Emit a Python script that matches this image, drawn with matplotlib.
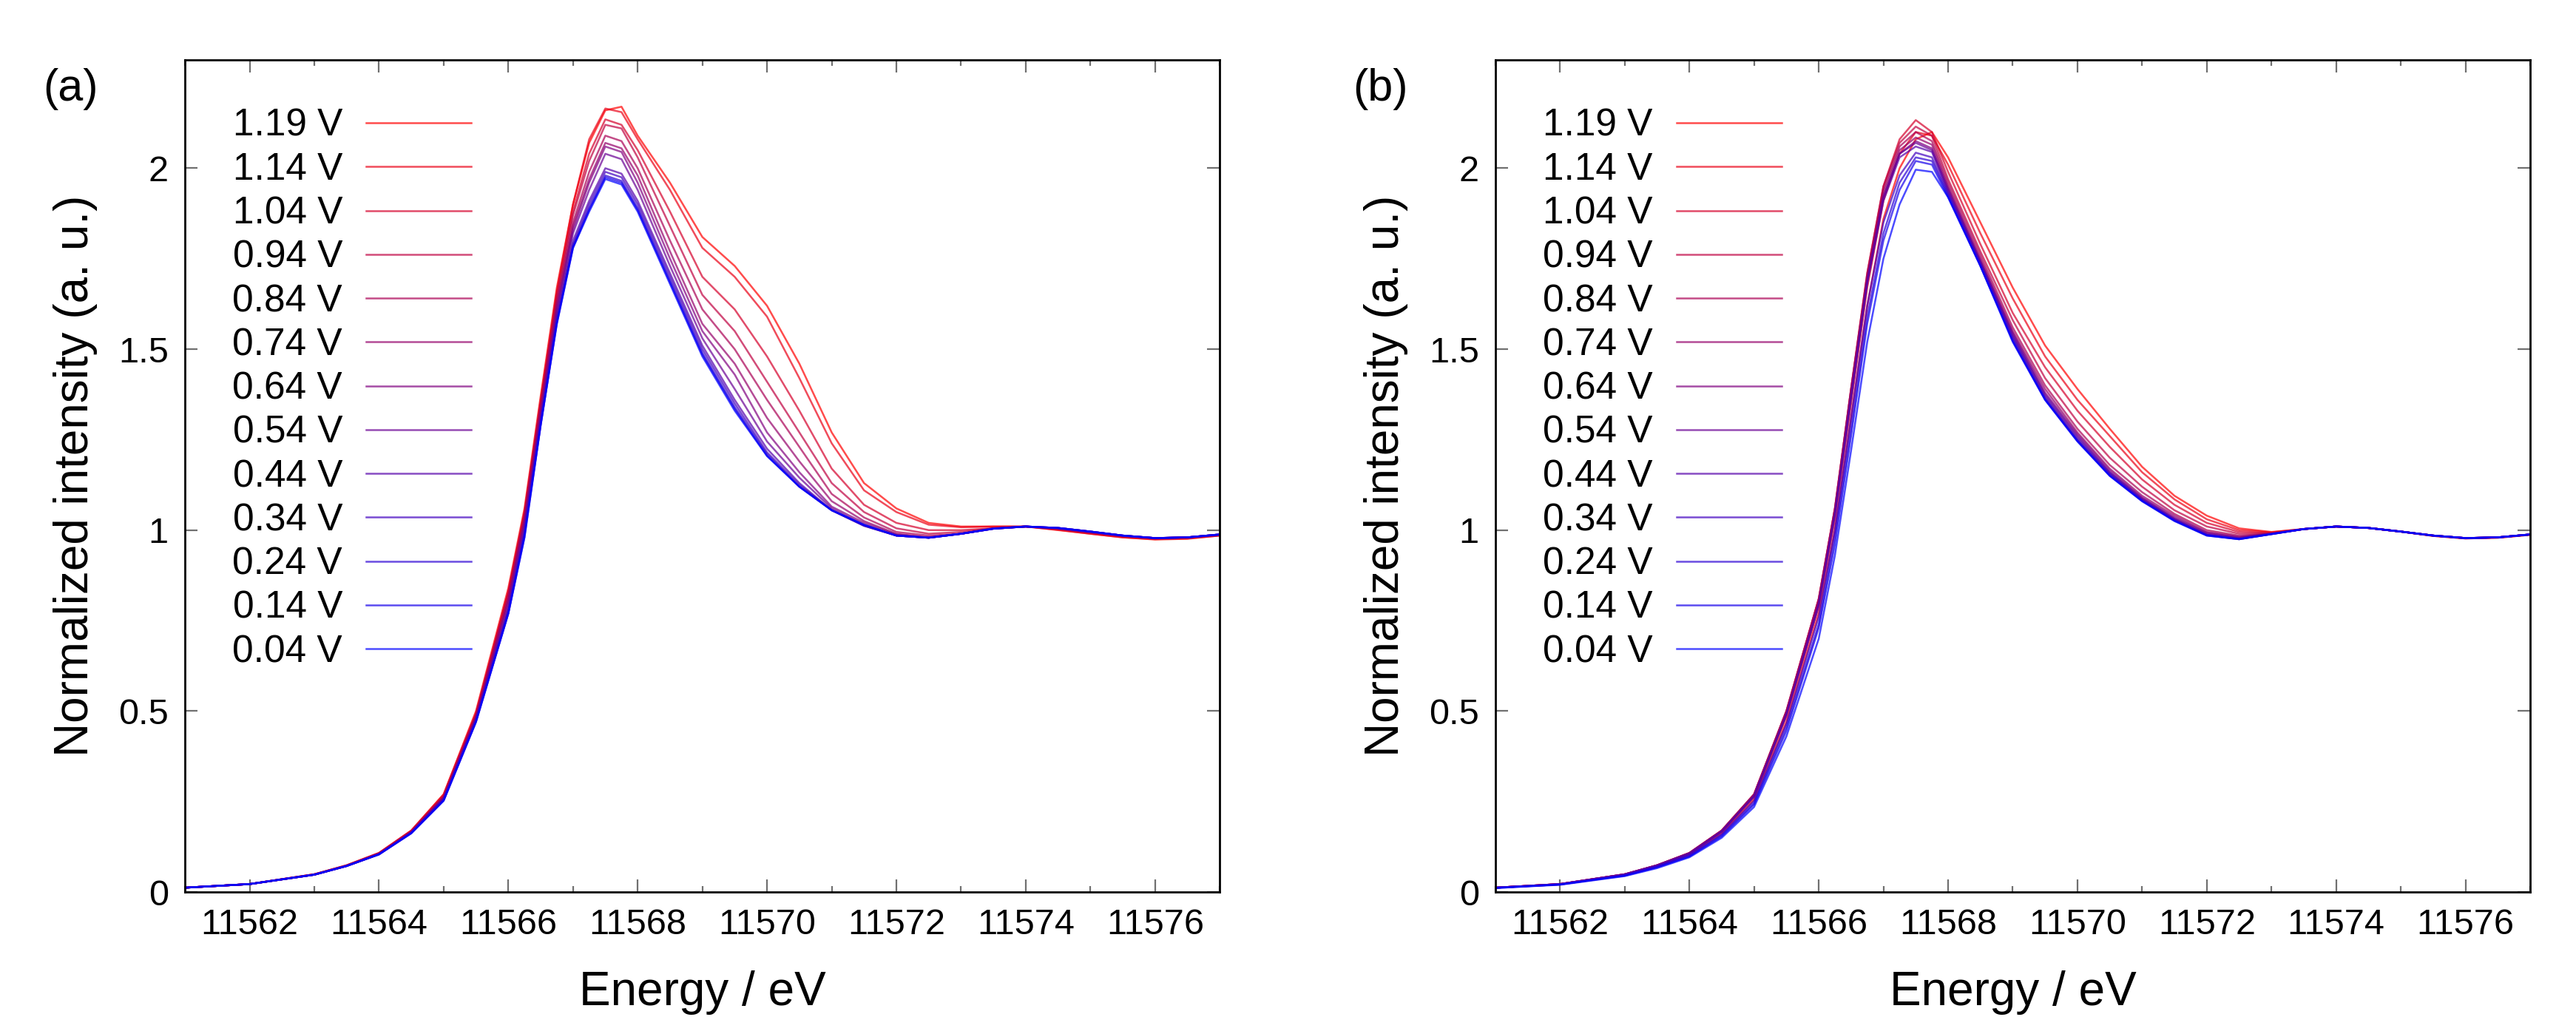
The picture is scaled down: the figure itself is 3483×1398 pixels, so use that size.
import numpy as np
import matplotlib.pyplot as plt

plt.rcParams['font.family'] = ['Liberation Sans', 'DejaVu Sans']

# energy grid (eV), shared by all spectra
energy = [11561, 11562, 11563, 11563.5, 11564, 11564.5, 11565, 11565.5,
          11566, 11566.25, 11566.5, 11566.75, 11567, 11567.25, 11567.5, 11567.75,
          11568, 11568.5, 11569, 11569.5, 11570, 11570.5, 11571, 11571.5,
          11572, 11572.5, 11573, 11573.5, 11574, 11574.5, 11575, 11575.5,
          11576, 11576.5, 11577]

potentials = ['1.19 V', '1.14 V', '1.04 V', '0.94 V', '0.84 V', '0.74 V', '0.64 V',
              '0.54 V', '0.44 V', '0.34 V', '0.24 V', '0.14 V', '0.04 V']

# ---- panel (a)
a_119 = [0.012, 0.022, 0.049, 0.074, 0.108, 0.170, 0.270, 0.500, 0.840, 1.060, 1.370, 1.670, 1.900, 2.070, 2.160, 2.170, 2.090, 1.960, 1.810, 1.730, 1.620, 1.460, 1.270, 1.130, 1.060, 1.020, 1.010, 1.010, 1.010, 1.000, 0.990, 0.980, 0.974, 0.976, 0.985]
a_114 = [0.012, 0.022, 0.049, 0.074, 0.108, 0.170, 0.270, 0.495, 0.830, 1.050, 1.360, 1.660, 1.900, 2.080, 2.165, 2.155, 2.080, 1.940, 1.780, 1.700, 1.590, 1.420, 1.240, 1.110, 1.050, 1.015, 1.008, 1.010, 1.010, 1.001, 0.990, 0.980, 0.975, 0.977, 0.985]
a_104 = [0.012, 0.022, 0.049, 0.073, 0.107, 0.168, 0.265, 0.490, 0.830, 1.050, 1.350, 1.650, 1.880, 2.040, 2.135, 2.120, 2.050, 1.880, 1.700, 1.610, 1.480, 1.330, 1.170, 1.070, 1.020, 1.000, 1.000, 1.005, 1.010, 1.003, 0.992, 0.982, 0.977, 0.979, 0.986]
a_094 = [0.012, 0.022, 0.049, 0.073, 0.107, 0.168, 0.265, 0.490, 0.820, 1.040, 1.350, 1.640, 1.870, 2.020, 2.120, 2.110, 2.030, 1.840, 1.650, 1.550, 1.410, 1.270, 1.130, 1.050, 1.005, 0.990, 0.995, 1.005, 1.010, 1.003, 0.993, 0.983, 0.977, 0.979, 0.986]
a_084 = [0.012, 0.022, 0.048, 0.073, 0.106, 0.167, 0.262, 0.485, 0.810, 1.030, 1.340, 1.630, 1.850, 1.990, 2.090, 2.075, 2.000, 1.800, 1.610, 1.500, 1.360, 1.230, 1.100, 1.035, 0.995, 0.985, 0.990, 1.005, 1.010, 1.004, 0.994, 0.984, 0.978, 0.980, 0.987]
a_074 = [0.012, 0.022, 0.048, 0.073, 0.106, 0.166, 0.262, 0.485, 0.810, 1.030, 1.330, 1.620, 1.840, 1.970, 2.070, 2.055, 1.980, 1.770, 1.570, 1.460, 1.310, 1.190, 1.080, 1.025, 0.990, 0.980, 0.990, 1.005, 1.010, 1.004, 0.994, 0.984, 0.978, 0.980, 0.987]
a_064 = [0.012, 0.022, 0.048, 0.072, 0.105, 0.165, 0.260, 0.480, 0.800, 1.020, 1.320, 1.610, 1.830, 1.960, 2.060, 2.045, 1.960, 1.750, 1.550, 1.430, 1.270, 1.160, 1.065, 1.020, 0.988, 0.980, 0.990, 1.005, 1.010, 1.005, 0.995, 0.985, 0.978, 0.980, 0.988]
a_054 = [0.012, 0.022, 0.048, 0.072, 0.105, 0.165, 0.258, 0.478, 0.790, 1.010, 1.310, 1.600, 1.820, 1.940, 2.040, 2.025, 1.940, 1.730, 1.530, 1.390, 1.245, 1.145, 1.060, 1.015, 0.985, 0.979, 0.990, 1.004, 1.010, 1.006, 0.996, 0.985, 0.978, 0.980, 0.988]
a_044 = [0.012, 0.022, 0.048, 0.072, 0.105, 0.164, 0.256, 0.475, 0.780, 1.000, 1.300, 1.590, 1.800, 1.910, 2.000, 1.985, 1.910, 1.710, 1.510, 1.360, 1.225, 1.130, 1.055, 1.012, 0.985, 0.979, 0.990, 1.004, 1.010, 1.006, 0.996, 0.985, 0.978, 0.980, 0.988]
a_034 = [0.012, 0.022, 0.048, 0.072, 0.104, 0.164, 0.255, 0.473, 0.780, 0.990, 1.300, 1.580, 1.790, 1.900, 1.990, 1.975, 1.900, 1.700, 1.500, 1.350, 1.215, 1.125, 1.055, 1.012, 0.985, 0.979, 0.990, 1.004, 1.010, 1.006, 0.996, 0.985, 0.978, 0.980, 0.988]
a_024 = [0.012, 0.022, 0.048, 0.072, 0.104, 0.163, 0.254, 0.472, 0.770, 0.990, 1.290, 1.575, 1.785, 1.890, 1.980, 1.965, 1.890, 1.690, 1.490, 1.340, 1.210, 1.120, 1.055, 1.013, 0.985, 0.979, 0.990, 1.004, 1.010, 1.006, 0.996, 0.985, 0.978, 0.980, 0.988]
a_014 = [0.012, 0.022, 0.048, 0.072, 0.104, 0.163, 0.253, 0.470, 0.770, 0.980, 1.290, 1.570, 1.780, 1.885, 1.975, 1.960, 1.885, 1.685, 1.485, 1.335, 1.205, 1.120, 1.055, 1.014, 0.985, 0.979, 0.990, 1.004, 1.010, 1.006, 0.996, 0.985, 0.978, 0.980, 0.988]
a_004 = [0.012, 0.022, 0.048, 0.072, 0.104, 0.162, 0.252, 0.470, 0.770, 0.980, 1.290, 1.570, 1.780, 1.880, 1.970, 1.955, 1.880, 1.680, 1.480, 1.330, 1.205, 1.120, 1.055, 1.015, 0.985, 0.979, 0.990, 1.004, 1.010, 1.006, 0.996, 0.985, 0.978, 0.980, 0.988]

# ---- panel (b)
b_119 = [0.012, 0.021, 0.047, 0.071, 0.103, 0.162, 0.255, 0.470, 0.770, 1.000, 1.310, 1.620, 1.860, 2.000, 2.080, 2.100, 2.030, 1.850, 1.670, 1.510, 1.390, 1.280, 1.175, 1.095, 1.040, 1.005, 0.995, 1.003, 1.010, 1.006, 0.996, 0.984, 0.977, 0.979, 0.987]
b_114 = [0.012, 0.022, 0.048, 0.073, 0.106, 0.166, 0.262, 0.485, 0.790, 1.030, 1.350, 1.670, 1.910, 2.040, 2.100, 2.090, 2.010, 1.820, 1.640, 1.480, 1.360, 1.260, 1.160, 1.085, 1.030, 1.000, 0.994, 1.003, 1.010, 1.006, 0.996, 0.984, 0.977, 0.979, 0.987]
b_104 = [0.012, 0.022, 0.049, 0.074, 0.108, 0.170, 0.270, 0.500, 0.810, 1.060, 1.390, 1.710, 1.950, 2.080, 2.133, 2.100, 1.990, 1.790, 1.600, 1.450, 1.330, 1.230, 1.140, 1.070, 1.020, 0.995, 0.992, 1.003, 1.010, 1.006, 0.996, 0.985, 0.978, 0.980, 0.988]
b_094 = [0.012, 0.022, 0.049, 0.074, 0.108, 0.170, 0.270, 0.500, 0.810, 1.060, 1.390, 1.710, 1.950, 2.070, 2.115, 2.090, 1.970, 1.770, 1.580, 1.420, 1.300, 1.200, 1.120, 1.055, 1.010, 0.990, 0.991, 1.003, 1.010, 1.006, 0.996, 0.985, 0.978, 0.980, 0.988]
b_084 = [0.012, 0.022, 0.049, 0.074, 0.108, 0.170, 0.270, 0.500, 0.810, 1.060, 1.390, 1.700, 1.940, 2.060, 2.100, 2.075, 1.960, 1.760, 1.560, 1.400, 1.280, 1.180, 1.105, 1.045, 1.000, 0.985, 0.990, 1.003, 1.010, 1.006, 0.996, 0.985, 0.978, 0.980, 0.988]
b_074 = [0.012, 0.022, 0.049, 0.074, 0.107, 0.169, 0.268, 0.495, 0.800, 1.050, 1.380, 1.700, 1.930, 2.050, 2.085, 2.065, 1.950, 1.750, 1.550, 1.390, 1.270, 1.170, 1.095, 1.040, 0.995, 0.982, 0.990, 1.003, 1.010, 1.006, 0.996, 0.985, 0.978, 0.980, 0.988]
b_064 = [0.012, 0.022, 0.049, 0.074, 0.107, 0.169, 0.268, 0.495, 0.800, 1.050, 1.380, 1.690, 1.920, 2.040, 2.075, 2.055, 1.945, 1.745, 1.545, 1.380, 1.265, 1.165, 1.090, 1.035, 0.993, 0.980, 0.990, 1.003, 1.010, 1.006, 0.996, 0.985, 0.978, 0.980, 0.988]
b_054 = [0.012, 0.022, 0.049, 0.073, 0.107, 0.168, 0.266, 0.492, 0.800, 1.050, 1.370, 1.690, 1.920, 2.040, 2.070, 2.050, 1.940, 1.740, 1.540, 1.375, 1.260, 1.160, 1.088, 1.032, 0.990, 0.978, 0.990, 1.003, 1.010, 1.006, 0.996, 0.985, 0.978, 0.980, 0.988]
b_044 = [0.012, 0.022, 0.048, 0.073, 0.106, 0.167, 0.263, 0.488, 0.790, 1.040, 1.360, 1.680, 1.910, 2.030, 2.060, 2.045, 1.935, 1.740, 1.535, 1.370, 1.255, 1.158, 1.085, 1.030, 0.988, 0.977, 0.990, 1.003, 1.010, 1.006, 0.996, 0.985, 0.978, 0.980, 0.988]
b_034 = [0.012, 0.021, 0.047, 0.071, 0.102, 0.160, 0.252, 0.465, 0.760, 1.000, 1.310, 1.620, 1.850, 1.980, 2.043, 2.030, 1.930, 1.735, 1.530, 1.365, 1.250, 1.155, 1.083, 1.028, 0.987, 0.976, 0.989, 1.003, 1.010, 1.006, 0.996, 0.985, 0.978, 0.980, 0.988]
b_024 = [0.012, 0.021, 0.046, 0.070, 0.100, 0.157, 0.246, 0.455, 0.740, 0.980, 1.280, 1.590, 1.820, 1.960, 2.030, 2.020, 1.925, 1.730, 1.525, 1.362, 1.248, 1.152, 1.082, 1.027, 0.986, 0.975, 0.989, 1.003, 1.010, 1.006, 0.996, 0.985, 0.978, 0.980, 0.988]
b_014 = [0.011, 0.021, 0.045, 0.068, 0.098, 0.154, 0.242, 0.445, 0.730, 0.960, 1.260, 1.570, 1.800, 1.940, 2.020, 2.010, 1.920, 1.730, 1.522, 1.360, 1.246, 1.150, 1.080, 1.026, 0.985, 0.975, 0.989, 1.003, 1.010, 1.006, 0.996, 0.985, 0.978, 0.980, 0.988]
b_004 = [0.011, 0.020, 0.044, 0.066, 0.096, 0.150, 0.235, 0.430, 0.700, 0.930, 1.220, 1.520, 1.750, 1.900, 1.996, 1.990, 1.920, 1.730, 1.520, 1.360, 1.245, 1.150, 1.080, 1.025, 0.985, 0.975, 0.989, 1.003, 1.010, 1.006, 0.996, 0.985, 0.978, 0.980, 0.988]

spectra_a = [a_119, a_114, a_104, a_094, a_084, a_074, a_064, a_054, a_044, a_034, a_024, a_014, a_004]
spectra_b = [b_119, b_114, b_104, b_094, b_084, b_074, b_064, b_054, b_044, b_034, b_024, b_014, b_004]

# red -> blue palette
colors = [(1 - t, 0.0, t) for t in np.linspace(0, 1, len(potentials))]


def panel(ax, spectra):
    for s, lab, c in zip(spectra, potentials, colors):
        ax.plot(energy, s, color=c, lw=0.9, alpha=0.7, label=lab)
    ax.set_xlim(11561, 11577)
    ax.set_ylim(0, 2.3)
    ax.set_xticks(range(11562, 11577, 2))
    ax.set_xticks(range(11561, 11578), minor=True)
    ax.set_yticks([0, 0.5, 1, 1.5, 2])
    ax.set_yticklabels(['0', '0.5', '1', '1.5', '2'])
    ax.tick_params(which='both', direction='in', top=True, right=True,
                   color='#707070', width=0.8)
    ax.tick_params(which='major', length=6, labelsize=17.5, pad=8)
    ax.tick_params(which='minor', length=3)
    for sp in ax.spines.values():
        sp.set_linewidth(1.0)
    ax.set_xlabel('Energy / eV', fontsize=23, labelpad=14)
    ax.set_ylabel('Normalized intensity (a. u.)', fontsize=23, labelpad=10)
    ax.legend(loc='upper left', bbox_to_anchor=(0.046, 0.942), frameon=False,
              markerfirst=False, fontsize=18.5, handlelength=2.75,
              handletextpad=0.63, labelspacing=0.20, borderpad=0,
              borderaxespad=0)


fig = plt.figure(figsize=(17.415, 6.99), dpi=200)
ax1 = fig.add_axes([0.0718, 0.1373, 0.4017, 0.805])
ax2 = fig.add_axes([0.5805, 0.1373, 0.4017, 0.805])
panel(ax1, spectra_a)
panel(ax2, spectra_b)

fig.text(0.0273, 0.914, '(a)', fontsize=22, ha='center', va='center')
fig.text(0.536, 0.914, '(b)', fontsize=22, ha='center', va='center')

fig.savefig('out.png', dpi=200)
